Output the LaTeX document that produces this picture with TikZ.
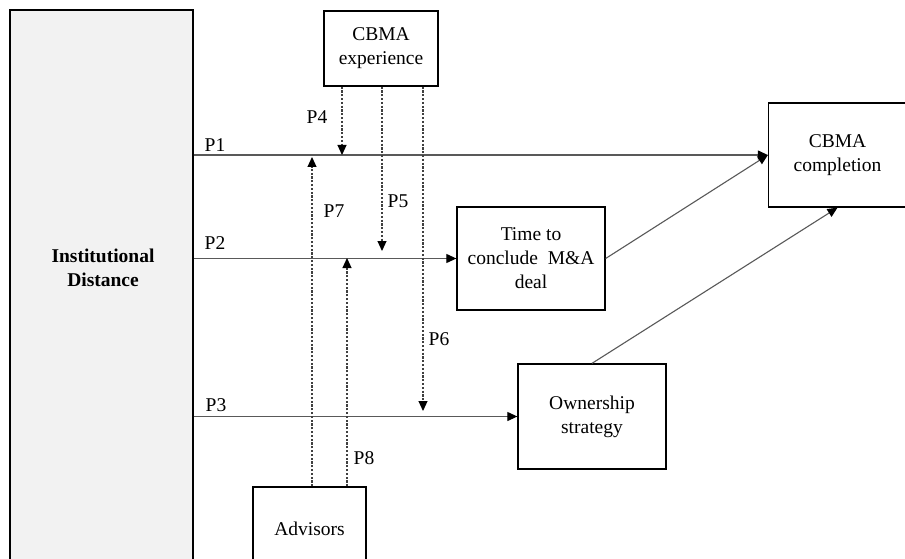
\documentclass[tikz,border=0pt]{standalone}
\usepackage{fontspec}
\setmainfont{Liberation Serif}
\usetikzlibrary{arrows.meta}
\begin{document}
\begin{tikzpicture}[x=1pt,y=-1pt,
  box/.style={draw=black,line width=1.3pt,rectangle,inner sep=0pt,align=center,
    font=\fontsize{19.5}{24}\selectfont},
  lbl/.style={inner sep=0pt,font=\fontsize{19.5}{24}\selectfont},
  solidarr/.style={draw=black!65,line width=1.1pt,-{Triangle[width=9pt,length=10pt,color=black]}},
  dasharr/.style={draw=black!75,line width=1.1pt,dash pattern=on 2.2pt off 1.6pt,
    -{Triangle[width=9pt,length=10pt,color=black]}}]
\useasboundingbox (0,0) rectangle (905,559);
\clip (0,0) rectangle (905,559);
\fill[white] (0,0) rectangle (905,559);

% boxes
\node[box,fill=black!5,minimum width=183pt,minimum height=562pt] (inst) at (101.5,291) {};
\node[lbl,align=center,font=\fontsize{19.5}{24}\selectfont\bfseries] (insttext) at (103,268) {Institutional\\Distance};
\node[box,minimum width=114pt,minimum height=75pt] (exp) at (381,48.5) {CBMA\\experience};
\node[box,minimum width=138pt,minimum height=104pt] (comp) at (837.5,155) {CBMA\\completion};
\node[box,minimum width=148pt,minimum height=103pt] (time) at (531,258.5) {Time to\\conclude\ \ M\&A\\deal};
\node[box,minimum width=148pt,minimum height=105pt] (own) at (592,416.5) {Ownership\\strategy};
\node[box,minimum width=113pt,minimum height=90pt,text depth=0pt] (adv) at (309.5,532) {\raisebox{6pt}{Advisors}};

% coordinates
\coordinate (p4end) at (342,155);
\coordinate (p5end) at (382,251);
\coordinate (p6end) at (423,411);
\coordinate (p7end) at (312,157);
\coordinate (p8end) at (347,258);

% main paths
\draw[solidarr] (inst.east |- comp.west) -- (comp.west);
\draw[solidarr] (inst.east |- time.west) -- (time.west);
\draw[solidarr] (inst.east |- own.west) -- (own.west);
\draw[solidarr] (time.east) -- (comp.west);
\draw[solidarr] (own.north) -- (comp.south);

% moderators
\draw[dasharr] (exp.south -| p4end) -- (p4end);
\draw[dasharr] (exp.south -| p5end) -- (p5end);
\draw[dasharr] (exp.south -| p6end) -- (p6end);
\draw[dasharr] (adv.north -| p7end) -- (p7end);
\draw[dasharr] (adv.north -| p8end) -- (p8end);

% labels
\node[lbl] (l1) at (215,145) {P1};
\node[lbl] (l2) at (215,243) {P2};
\node[lbl] (l3) at (216,405) {P3};
\node[lbl] (l4) at (317,117) {P4};
\node[lbl] (l5) at (398,201) {P5};
\node[lbl] (l6) at (439,339) {P6};
\node[lbl] (l7) at (334,211) {P7};
\node[lbl] (l8) at (364,458) {P8};
\end{tikzpicture}
\end{document}
